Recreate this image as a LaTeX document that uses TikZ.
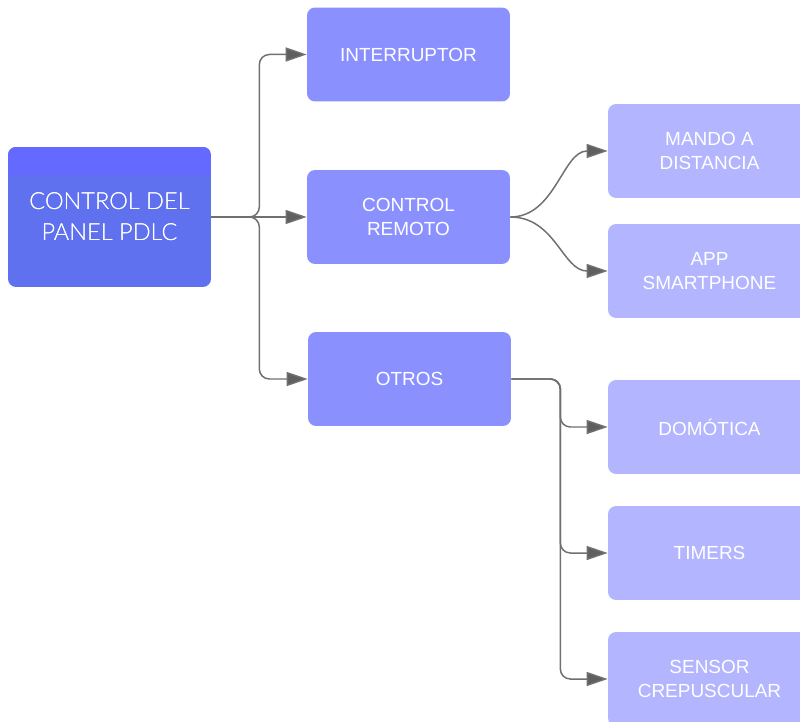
\documentclass[tikz,border=0pt]{standalone}
\usepackage{fontspec}
\setmainfont{Liberation Sans}
\newfontfamily\rootfont{Lato}[UprightFont={* Light}]
\usetikzlibrary{arrows.meta}

\definecolor{rootblue}{RGB}{96,113,240}
\definecolor{roottop}{RGB}{100,106,255}
\definecolor{midblue}{RGB}{139,144,255}
\definecolor{leafblue}{RGB}{179,181,255}
\definecolor{wire}{RGB}{112,112,112}

\tikzset{
  box/.style={rounded corners=0.16cm, text=white, align=center,
    minimum width=4.06cm, minimum height=1.88cm, inner sep=0pt,
    font=\fontsize{10.8pt}{13.4pt}\selectfont},
  rootbox/.style={box, fill=rootblue, minimum height=2.8cm,
    font=\rootfont\fontsize{13.4pt}{17.6pt}\selectfont},
  midbox/.style={box, fill=midblue},
  leafbox/.style={box, fill=leafblue},
  link/.style={draw=wire, line width=0.85pt,
    -{Triangle[length=12pt,width=8pt,fill=wire!85!black]}},
  elbow/.style={link, rounded corners=0.2cm}
}

\begin{document}
\begin{tikzpicture}[x=0.02cm, y=-0.02cm]
\useasboundingbox (0,0) rectangle (800,722);

% root box with a lighter band along its top edge
\node[rootbox] (root) at (109.5,217) {CONTROL DEL\\PANEL PDLC};
\begin{scope}
  \clip[rounded corners=0.16cm] (8,147) rectangle (211,287);
  \fill[roottop] (8,147) rectangle (211,175);
\end{scope}
\node[rootbox, fill=none] at (109.5,217) {CONTROL DEL\\PANEL PDLC};

% first level
\node[midbox] (int) at (408.5,54.5) {INTERRUPTOR};
\node[midbox] (rem) at (408.5,217) {CONTROL\\REMOTO};
\node[midbox] (otr) at (409.5,379) {OTROS};

% second level (runs past the right edge)
\node[leafbox] (man) at (709.5,151) {MANDO A\\DISTANCIA};
\node[leafbox] (app) at (709.5,271) {APP\\SMARTPHONE};
\node[leafbox] (dom) at (709.5,427) {DOMÓTICA};
\node[leafbox] (tim) at (709.5,553) {TIMERS};
\node[leafbox] (sen) at (709.5,679) {SENSOR\\CREPUSCULAR};

% connectors from the root
\draw[elbow] (root.east) -- ++(48,0) |- (int.west);
\draw[link] (root.east) -- (rem.west);
\draw[elbow] (root.east) -- ++(48,0) |- (otr.west);

% remote control branches
\draw[link] (rem.east) .. controls +(45,0) and +(-45,0) .. (man.west);
\draw[link] (rem.east) .. controls +(45,0) and +(-45,0) .. (app.west);

% other branches
\draw[elbow] (otr.east) -- ++(49,0) |- (dom.west);
\draw[elbow] (otr.east) -- ++(49,0) |- (tim.west);
\draw[elbow] (otr.east) -- ++(49,0) |- (sen.west);
\end{tikzpicture}
\end{document}
